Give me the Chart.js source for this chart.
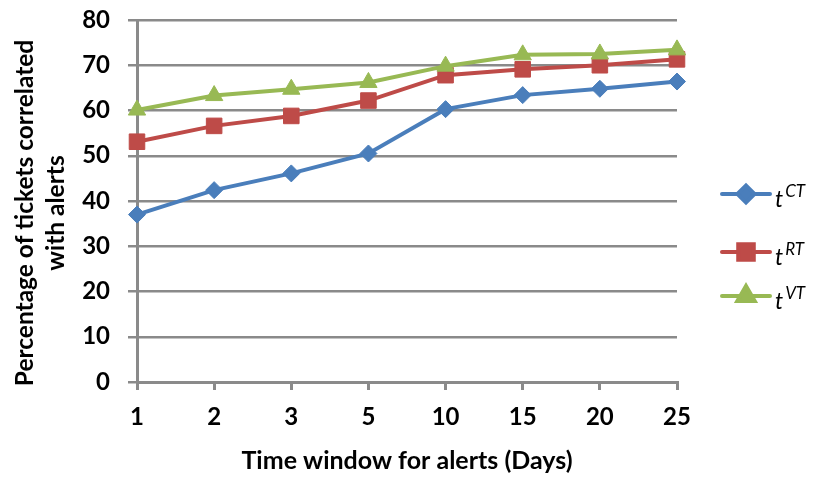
<!DOCTYPE html>
<html>
<head>
<meta charset="utf-8">
<title>Tickets correlated with alerts</title>
<script src="https://cdn.jsdelivr.net/npm/chart.js@4/dist/chart.umd.min.js"></script>
<style>
  html, body { margin: 0; padding: 0; background: #ffffff; }
  #wrap { width: 814px; height: 477px; }
</style>
</head>
<body>
<div id="wrap"><canvas id="chart" width="814" height="477"></canvas></div>
<script>
// Time windows (days) on the x axis
const categories = ['1', '2', '3', '5', '10', '15', '20', '25'];

// Percentage of tickets correlated with alerts, per ticket type
const ctValues = [37.0, 42.4, 46.1, 50.5, 60.3, 63.4, 64.8, 66.4];
const rtValues = [53.1, 56.6, 58.8, 62.2, 67.8, 69.1, 70.0, 71.3];
const vtValues = [60.1, 63.3, 64.7, 66.2, 69.8, 72.3, 72.5, 73.4];

// Series names: base letter and superscript
const seriesBase = ['t', 't', 't'];
const seriesSup = ['CT', 'RT', 'VT'];

// Axis titles
const xTitle = 'Time window for alerts (Days)';
const yTitleLines = ['Percentage of tickets correlated', 'with alerts'];

// Value axis range
const yMin = 0;
const yMax = 80;
const yStep = 10;

const FONT = 'Lato, "Open Sans", "Liberation Sans", sans-serif';
const GRID = '#8a8a8a';
const BLUE = '#4a7ebb';
const RED = '#be4b48';
const GREEN = '#98b954';

// Two-line rotated title for the value axis
const yAxisTitle = {
  id: 'yAxisTitle',
  afterDraw(chart) {
    const ctx = chart.ctx;
    const baselines = [33, 64];
    yTitleLines.forEach((line, i) => {
      ctx.save();
      ctx.translate(baselines[i], 213);
      ctx.rotate(-Math.PI / 2);
      ctx.fillStyle = '#000000';
      ctx.font = 'bold 24.5px ' + FONT;
      ctx.textAlign = 'center';
      ctx.textBaseline = 'alphabetic';
      ctx.fillText(line, 0, 0);
      ctx.restore();
    });
  }
};

// Legend on the right: line sample with marker, then "t" with superscript
const sideLegend = {
  id: 'sideLegend',
  afterDraw(chart) {
    const ctx = chart.ctx;
    const rows = [194, 252, 296];
    chart.data.datasets.forEach((ds, i) => {
      const y = rows[i];
      ctx.save();
      ctx.strokeStyle = ds.borderColor;
      ctx.lineWidth = 4;
      ctx.lineCap = 'round';
      ctx.beginPath();
      ctx.moveTo(722, y);
      ctx.lineTo(770, y);
      ctx.stroke();
      ctx.fillStyle = ds.pointBackgroundColor;
      ctx.strokeStyle = ds.pointBorderColor;
      Chart.helpers.drawPoint(ctx, {
        pointStyle: ds.pointStyle,
        radius: ds.pointRadius,
        rotation: 0,
        borderWidth: 1
      }, 746, y);
      ctx.fillStyle = '#000000';
      ctx.textAlign = 'left';
      ctx.textBaseline = 'alphabetic';
      ctx.font = 'italic 23px ' + FONT;
      ctx.fillText(seriesBase[i], 775, y + 13);
      const w = ctx.measureText(seriesBase[i]).width;
      ctx.font = 'italic 17px ' + FONT;
      ctx.fillText(seriesSup[i], 775 + w + 2, y + 3);
      ctx.restore();
    });
  }
};

function series(label, values, color, style, radius, order) {
  return {
    label: label,
    data: values,
    borderColor: color,
    backgroundColor: color,
    pointBackgroundColor: color,
    pointBorderColor: color,
    pointBorderWidth: 1,
    pointStyle: style,
    pointRadius: radius,
    pointHoverRadius: radius,
    borderWidth: 4,
    tension: 0,
    fill: false,
    clip: false,
    order: order
  };
}

new Chart(document.getElementById('chart'), {
  type: 'line',
  data: {
    labels: categories,
    datasets: [
      series('tCT', ctValues, BLUE, 'rectRot', 8.5, 2),
      series('tRT', rtValues, RED, 'rect', 11, 1),
      series('tVT', vtValues, GREEN, 'triangle', 10, 0)
    ]
  },
  options: {
    responsive: false,
    animation: false,
    devicePixelRatio: 1,
    layout: { padding: { top: 20, right: 137, bottom: 0, left: 0 } },
    plugins: {
      legend: { display: false },
      tooltip: { enabled: false }
    },
    scales: {
      x: {
        type: 'category',
        offset: false,
        afterFit(scale) {
          scale.height = 95;
          scale.paddingLeft = 0;
          scale.paddingRight = 0;
        },
        grid: {
          drawOnChartArea: false,
          drawTicks: true,
          tickLength: 8,
          tickColor: GRID,
          tickWidth: 3,
          color: GRID,
          lineWidth: 3
        },
        border: { color: GRID, width: 3 },
        ticks: {
          color: '#000000',
          padding: 13,
          maxRotation: 0,
          autoSkip: false,
          font: { family: FONT, size: 24, weight: 'bold' }
        },
        title: {
          display: true,
          text: xTitle,
          color: '#000000',
          padding: { top: 0, bottom: 1 },
          font: { family: FONT, size: 25, weight: 'bold', lineHeight: 1.2 }
        }
      },
      y: {
        min: yMin,
        max: yMax,
        afterFit(scale) {
          scale.width = 137;
          scale.paddingTop = 0;
          scale.paddingBottom = 0;
        },
        grid: {
          drawTicks: true,
          tickLength: 9,
          tickColor: GRID,
          tickWidth: 2.5,
          lineWidth: 2.5,
          color: GRID
        },
        border: { color: GRID, width: 3 },
        ticks: {
          stepSize: yStep,
          color: '#000000',
          padding: 18,
          font: { family: FONT, size: 24, weight: 'bold' }
        },
        title: { display: false }
      }
    }
  },
  plugins: [yAxisTitle, sideLegend]
});
</script>
</body>
</html>
